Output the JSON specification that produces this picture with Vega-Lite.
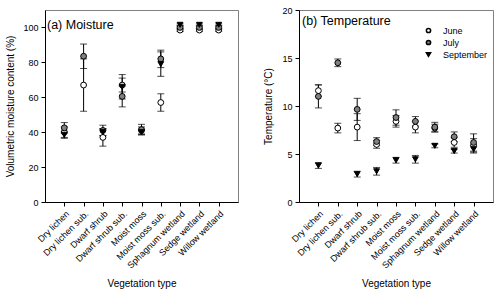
{
  "$schema": "https://vega.github.io/schema/vega-lite/v6.json",
  "padding": {"left": 5, "top": 5, "right": 4, "bottom": 2},
  "bounds": "flush",
  "spacing": 61,
  "datasets": {
    "moisture": [
      {"veg": "Dry lichen", "month": "June", "mean": 40, "se": 3},
      {"veg": "Dry lichen sub.", "month": "June", "mean": 67, "se": 15},
      {"veg": "Dwarf shrub", "month": "June", "mean": 37, "se": 5},
      {"veg": "Dwarf shrub sub.", "month": "June", "mean": 67, "se": 4},
      {"veg": "Moist moss", "month": "June", "mean": 41, "se": 2},
      {"veg": "Moist moss sub.", "month": "June", "mean": 57, "se": 5},
      {"veg": "Sphagnum wetland", "month": "June", "mean": 98.5, "se": 0.8},
      {"veg": "Sedge wetland", "month": "June", "mean": 98.5, "se": 0.8},
      {"veg": "Willow wetland", "month": "June", "mean": 98.5, "se": 0.8},
      {"veg": "Dry lichen", "month": "July", "mean": 42.5, "se": 3},
      {"veg": "Dry lichen sub.", "month": "July", "mean": 83.5, "se": 7},
      {"veg": "Dwarf shrub", "month": "July", "mean": 41, "se": 3},
      {"veg": "Dwarf shrub sub.", "month": "July", "mean": 60.5, "se": 6},
      {"veg": "Moist moss", "month": "July", "mean": 41.5, "se": 3},
      {"veg": "Moist moss sub.", "month": "July", "mean": 82, "se": 5},
      {"veg": "Sphagnum wetland", "month": "July", "mean": 100, "se": 0.8},
      {"veg": "Sedge wetland", "month": "July", "mean": 100, "se": 0.8},
      {"veg": "Willow wetland", "month": "July", "mean": 100, "se": 0.8},
      {"veg": "Dry lichen", "month": "September", "mean": 38.5, "se": 2},
      {"veg": "Dwarf shrub", "month": "September", "mean": 40, "se": 2},
      {"veg": "Dwarf shrub sub.", "month": "September", "mean": 66, "se": 7},
      {"veg": "Moist moss", "month": "September", "mean": 40, "se": 1.5},
      {"veg": "Moist moss sub.", "month": "September", "mean": 79, "se": 7},
      {"veg": "Sphagnum wetland", "month": "September", "mean": 101.5, "se": 0.5},
      {"veg": "Sedge wetland", "month": "September", "mean": 101.5, "se": 0.5},
      {"veg": "Willow wetland", "month": "September", "mean": 101.5, "se": 0.5}
    ],
    "temperature": [
      {"veg": "Dry lichen", "month": "June", "mean": 11.6, "se": 0.6},
      {"veg": "Dry lichen sub.", "month": "June", "mean": 7.7, "se": 0.5},
      {"veg": "Dwarf shrub", "month": "June", "mean": 7.8, "se": 1.4},
      {"veg": "Dwarf shrub sub.", "month": "June", "mean": 6.0, "se": 0.4},
      {"veg": "Moist moss", "month": "June", "mean": 8.4, "se": 0.6},
      {"veg": "Moist moss sub.", "month": "June", "mean": 7.8, "se": 0.6},
      {"veg": "Sphagnum wetland", "month": "June", "mean": 7.7, "se": 0.4},
      {"veg": "Sedge wetland", "month": "June", "mean": 6.2, "se": 0.5},
      {"veg": "Willow wetland", "month": "June", "mean": 5.9, "se": 0.7},
      {"veg": "Dry lichen", "month": "July", "mean": 11.0, "se": 1.2},
      {"veg": "Dry lichen sub.", "month": "July", "mean": 14.5, "se": 0.4},
      {"veg": "Dwarf shrub", "month": "July", "mean": 9.65, "se": 1.15},
      {"veg": "Dwarf shrub sub.", "month": "July", "mean": 6.3, "se": 0.4},
      {"veg": "Moist moss", "month": "July", "mean": 8.8, "se": 0.8},
      {"veg": "Moist moss sub.", "month": "July", "mean": 8.4, "se": 0.5},
      {"veg": "Sphagnum wetland", "month": "July", "mean": 7.8, "se": 0.5},
      {"veg": "Sedge wetland", "month": "July", "mean": 6.8, "se": 0.5},
      {"veg": "Willow wetland", "month": "July", "mean": 6.2, "se": 0.9},
      {"veg": "Dry lichen", "month": "September", "mean": 3.8, "se": 0.3},
      {"veg": "Dwarf shrub", "month": "September", "mean": 2.9, "se": 0.3},
      {"veg": "Dwarf shrub sub.", "month": "September", "mean": 3.2, "se": 0.4},
      {"veg": "Moist moss", "month": "September", "mean": 4.35, "se": 0.3},
      {"veg": "Moist moss sub.", "month": "September", "mean": 4.45, "se": 0.4},
      {"veg": "Sphagnum wetland", "month": "September", "mean": 5.85, "se": 0.2},
      {"veg": "Sedge wetland", "month": "September", "mean": 5.3, "se": 0.2},
      {"veg": "Willow wetland", "month": "September", "mean": 5.5, "se": 0.4}
    ]
  },
  "hconcat": [
    {
      "width": 193,
      "height": 192,
      "data": {"name": "moisture"},
      "title": {"text": "(a) Moisture", "anchor": "start", "frame": "group", "offset": -21, "dx": 2, "fontSize": 12.5, "fontWeight": "normal", "font": "Liberation Sans", "color": "black"},
      "encoding": {
        "x": {"field": "veg", "type": "nominal", "sort": ["Dry lichen", "Dry lichen sub.", "Dwarf shrub", "Dwarf shrub sub.", "Moist moss", "Moist moss sub.", "Sphagnum wetland", "Sedge wetland", "Willow wetland"], "scale": {"type": "point", "padding": 1}, "title": "Vegetation type", "axis": {"labelAngle": -45, "titlePadding": 9}},
        "y": {"field": "mean", "type": "quantitative", "scale": {"domain": [0, 110], "nice": false}, "title": "Volumetric moisture content (%)", "axis": {"values": [0, 20, 40, 60, 80, 100], "labelOverlap": false, "titlePadding": 7}}
      },
      "layer": [
        {
          "mark": {"type": "errorbar", "ticks": true, "size": 7, "color": "black", "thickness": 1},
          "encoding": {
            "yError": {"field": "se"}
          }
        },
        {
          "mark": {"type": "point", "filled": true, "stroke": "black", "strokeWidth": 1, "size": 34, "opacity": 1},
          "encoding": {
            "shape": {"field": "month", "type": "nominal", "scale": {"domain": ["June", "July", "September"], "range": ["circle", "circle", "triangle-down"]}, "legend": null},
            "fill": {"field": "month", "type": "nominal", "scale": {"domain": ["June", "July", "September"], "range": ["white", "#808080", "black"]}, "legend": null}
          }
        }
      ]
    },
    {
      "width": 194,
      "height": 192,
      "data": {"name": "temperature"},
      "title": {"text": "(b) Temperature", "anchor": "start", "frame": "group", "offset": -21, "dx": 3, "fontSize": 12.5, "fontWeight": "normal", "font": "Liberation Sans", "color": "black"},
      "encoding": {
        "x": {"field": "veg", "type": "nominal", "sort": ["Dry lichen", "Dry lichen sub.", "Dwarf shrub", "Dwarf shrub sub.", "Moist moss", "Moist moss sub.", "Sphagnum wetland", "Sedge wetland", "Willow wetland"], "scale": {"type": "point", "padding": 1}, "title": "Vegetation type", "axis": {"labelAngle": -45, "titlePadding": 9}},
        "y": {"field": "mean", "type": "quantitative", "scale": {"domain": [0, 20], "nice": false}, "title": "Temperature (°C)", "axis": {"values": [0, 5, 10, 15, 20], "labelOverlap": false, "titlePadding": 8}}
      },
      "layer": [
        {
          "mark": {"type": "errorbar", "ticks": true, "size": 7, "color": "black", "thickness": 1},
          "encoding": {
            "yError": {"field": "se"}
          }
        },
        {
          "mark": {"type": "point", "filled": true, "stroke": "black", "strokeWidth": 1, "size": 34, "opacity": 1},
          "encoding": {
            "shape": {"field": "month", "type": "nominal", "scale": {"domain": ["June", "July", "September"], "range": ["circle", "circle", "triangle-down"]}, "legend": {"title": null, "orient": "none", "legendX": 125, "legendY": 16, "padding": 0, "symbolSize": 18, "labelFontSize": 9, "labelOffset": 10, "rowPadding": 1, "labelColor": "black", "labelFont": "Liberation Sans", "encode": {"symbols": {"update": {"stroke": {"value": "black"}, "strokeWidth": {"value": 1}}}}}},
            "fill": {"field": "month", "type": "nominal", "scale": {"domain": ["June", "July", "September"], "range": ["white", "#808080", "black"]}, "legend": {"title": null, "orient": "none", "legendX": 125, "legendY": 16, "padding": 0, "symbolSize": 18, "labelFontSize": 9, "labelOffset": 10, "rowPadding": 1, "labelColor": "black", "labelFont": "Liberation Sans", "encode": {"symbols": {"update": {"stroke": {"value": "black"}, "strokeWidth": {"value": 1}}}}}}
          }
        }
      ]
    }
  ],
  "resolve": {"legend": {"shape": "independent", "fill": "independent"}},
  "config": {
    "font": "Liberation Sans",
    "view": {"stroke": "#808080", "strokeWidth": 1},
    "axis": {"grid": false, "labelOverlap": false, "domainColor": "black", "tickColor": "black", "labelColor": "black", "titleColor": "black", "tickSize": 4, "labelPadding": 3, "labelFontSize": 9, "titleFontSize": 10, "titleFontWeight": "normal", "labelFont": "Liberation Sans", "titleFont": "Liberation Sans"}
  }
}
